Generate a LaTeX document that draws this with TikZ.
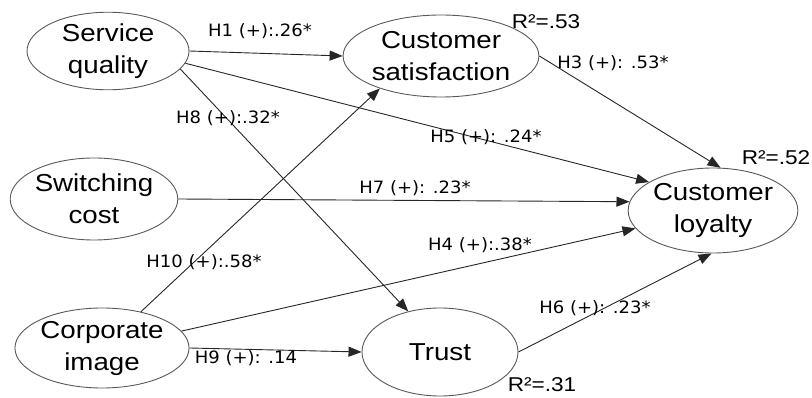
\documentclass[tikz,border=0pt]{standalone}
\usepackage{fontspec}
\setmainfont{Liberation Sans}[FakeStretch=1.13]
\newfontfamily\lblfont{DejaVu Sans}[FakeStretch=1.06]
\usetikzlibrary{shapes.geometric,arrows.meta}
\begin{document}
\begin{tikzpicture}[x=1pt,y=-1pt,
  construct/.style={ellipse,draw=black!65,line width=0.9pt,inner sep=0pt,align=center,
    font=\fontsize{24.5}{32}\selectfont},
  hyp/.style={draw=black!85,line width=0.9pt,-{Triangle[length=13pt,width=10pt]}},
  lbl/.style={font=\lblfont\fontsize{17}{20}\selectfont,inner sep=0pt},
  rsq/.style={font=\fontsize{20}{24}\selectfont,inner sep=0pt}]
\useasboundingbox (0,0) rectangle (812,398);
\node[construct,minimum width=162pt,minimum height=74pt] (sq) at (108,51) {Service\\quality};
\node[construct,minimum width=180pt,minimum height=82pt] (cs) at (441,56) {Customer\\satisfaction};
\node[construct,minimum width=162pt,minimum height=82pt] (sc) at (94,199) {Switching\\cost};
\node[construct,minimum width=156pt,minimum height=80pt] (ci) at (102,348) {Corporate\\image};
\node[construct,minimum width=156pt,minimum height=88pt] (tr) at (440,352) {Trust};
\node[construct,minimum width=164pt,minimum height=85pt] (cl) at (713,210.5) {Customer\\loyalty};

\draw[hyp] (sq.east) -- (cs.west);
\draw[hyp] (sq.-14) -- (tr.128);
\draw[hyp] (sq.-9) -- (cl.156);
\draw[hyp] (cs.east) -- (cl.80);
\draw[hyp] (sc.east) -- (cl.174);
\draw[hyp] (ci.43) -- (cs.208);
\draw[hyp] (ci.12) -- (cl.193);
\draw[hyp] (ci.east) -- (tr.west);
\draw[hyp] (tr.east) -- (cl.-92);

\node[lbl] (h1) at (260,31) {H1 (+):.26*};
\node[lbl] (h3) at (613,63) {H3 (+): .53*};
\node[lbl] (h8) at (228,118) {H8 (+):.32*};
\node[lbl] (h5) at (486,137) {H5 (+): .24*};
\node[lbl] (h7) at (415,188) {H7 (+): .23*};
\node[lbl] (h4) at (480,245) {H4 (+):.38*};
\node[lbl] (h10) at (204,262) {H10 (+):.58*};
\node[lbl] (h9) at (246,358) {H9 (+): .14};
\node[lbl] (h6) at (595,308) {H6 (+): .23*};

\node[rsq] (r1) at (546,22) {R²=.53};
\node[rsq] (r2) at (776,158) {R²=.52};
\node[rsq] (r3) at (542,385) {R²=.31};
\end{tikzpicture}
\end{document}
